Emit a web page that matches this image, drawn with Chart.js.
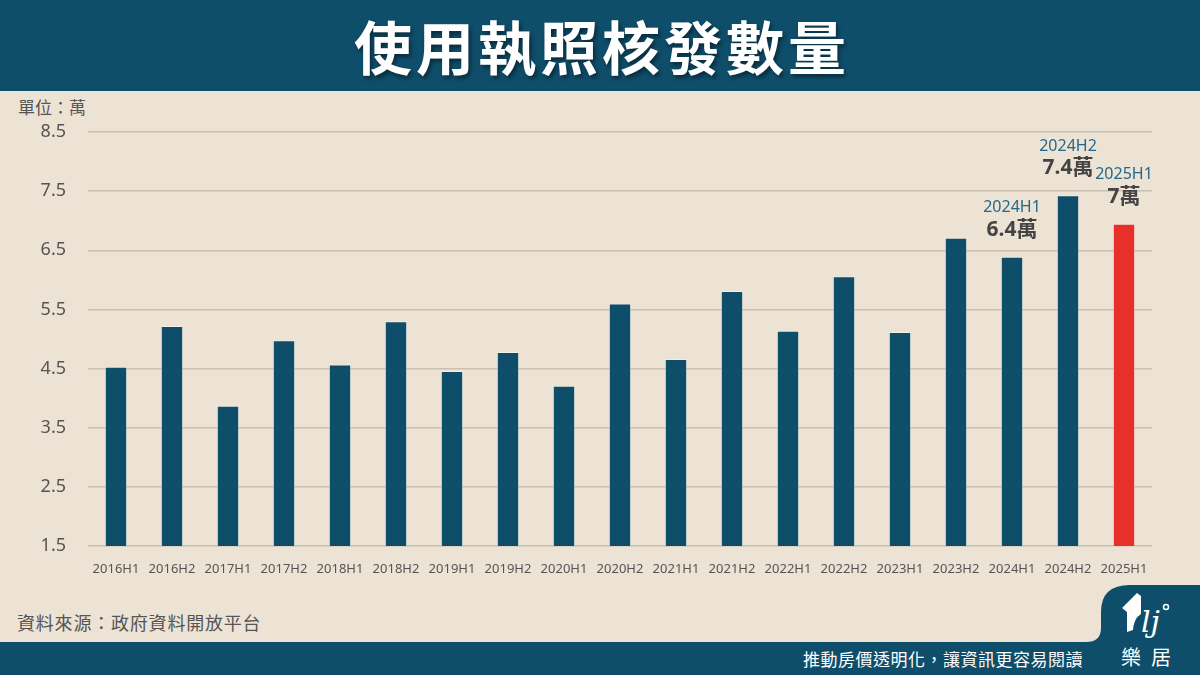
<!DOCTYPE html>
<html>
<head>
<meta charset="utf-8">
<script src="https://cdn.jsdelivr.net/npm/chart.js@4/dist/chart.umd.min.js"></script>
<style>
  html, body { margin: 0; padding: 0; }
  body { width: 1200px; height: 675px; background: #ede3d4; position: relative; overflow: hidden; font-family: 'Noto Sans', 'Noto Sans CJK TC', sans-serif; }
  #header { position: absolute; left: 0; top: 0; width: 1200px; height: 91px; background: #0f4e6b; }
  #title { position: absolute; left: 0; top: 0; width: 1200px; height: 91px; line-height: 91px; text-align: center; color: #fff; font-family: 'Noto Sans CJK TC', sans-serif; font-weight: 700; font-size: 58px; letter-spacing: 4px; text-indent: 4px; text-shadow: 2px 3px 4px rgba(0,0,0,0.45); }
  #unit { position: absolute; left: 18px; top: 94px; font-family: 'Noto Sans CJK TC', sans-serif; font-size: 17px; color: #555; }
  #source { position: absolute; left: 17px; top: 609px; font-family: 'Noto Sans CJK TC', sans-serif; font-size: 18px; letter-spacing: 0.8px; color: #555; }
  #slogan { position: absolute; right: 117px; top: 646px; font-family: 'Noto Sans CJK TC', sans-serif; font-size: 17px; color: #fff; letter-spacing: 0.5px; }
  #deco { position: absolute; left: 0; top: 0; }
  #chartbox { position: absolute; left: 0; top: 95px; width: 1200px; height: 495px; }
  #brand { position: absolute; left: 1121px; top: 642px; font-family: 'Noto Sans CJK TC', sans-serif; font-size: 20px; color: #fff; letter-spacing: 10px; }
</style>
</head>
<body>
<div id="header"></div>
<div id="title">使用執照核發數量</div>
<div id="unit">單位：萬</div>
<svg id="deco" width="1200" height="675">
  <path d="M1086,642 Q1101,642 1101,628 L1101,612 Q1101,585 1130,585 L1200,585 L1200,675 L0,675 L0,642 Z" fill="#0f4e6b"/>
  <path d="M1122,608 L1137,593 L1141,596 L1141,614 Q1134,618 1133,630 L1127,632 L1127,612 Z" fill="#fff"/>
  <text x="1141" y="632" font-family="DejaVu Serif" font-style="italic" font-size="30" fill="#fff">lj</text>
  <circle cx="1166" cy="607" r="2.5" fill="none" stroke="#fff" stroke-width="1.5"/>
</svg>
<div id="source">資料來源：政府資料開放平台</div>
<div id="slogan">推動房價透明化，讓資訊更容易閱讀</div>
<div id="brand">樂居</div>
<div id="chartbox"><canvas id="c"></canvas></div>
<script>
const categories = ['2016H1','2016H2','2017H1','2017H2','2018H1','2018H2','2019H1','2019H2','2020H1','2020H2','2021H1','2021H2','2022H1','2022H2','2023H1','2023H2','2024H1','2024H2','2025H1'];
const values = [4.53,5.22,3.87,4.98,4.57,5.30,4.46,4.78,4.21,5.60,4.66,5.81,5.14,6.06,5.12,6.71,6.39,7.43,6.95];
const yTicks = [1.5,2.5,3.5,4.5,5.5,6.5,7.5,8.5];
const calloutCategories = ['2024H1','2024H2','2025H1'];
const calloutTexts = ['6.4萬','7.4萬','7萬'];
const highlightCategory = '2025H1';

const BLUE = '#0f4e6b';
const RED = '#e8302a';

const calloutPlugin = {
  id: 'callouts',
  afterDatasetsDraw(chart) {
    const ctx = chart.ctx;
    const meta = chart.getDatasetMeta(0);
    ctx.save();
    ctx.textAlign = 'center';
    ctx.textBaseline = 'middle';
    calloutCategories.forEach((cat, k) => {
      const i = categories.indexOf(cat);
      const bar = meta.data[i];
      ctx.fillStyle = '#22698b';
      ctx.font = "16px 'Noto Sans', sans-serif";
      ctx.fillText(cat, bar.x, bar.y - 49);
      ctx.fillStyle = '#444';
      ctx.font = "bold 21px 'Noto Sans', 'Noto Sans CJK TC', sans-serif";
      ctx.fillText(calloutTexts[k], bar.x, bar.y - 27);
    });
    ctx.restore();
  }
};

new Chart(document.getElementById('c'), {
  type: 'bar',
  data: {
    labels: categories,
    datasets: [{
      data: values,
      backgroundColor: categories.map(c => c === highlightCategory ? RED : BLUE),
      borderColor: 'rgba(255,255,255,0.35)',
      borderWidth: 1,
      barPercentage: 0.4,
      categoryPercentage: 1.0
    }]
  },
  options: {
    responsive: true,
    maintainAspectRatio: false,
    animation: false,
    layout: { padding: { top: 37, right: 48, left: 0, bottom: 0 } },
    plugins: { legend: { display: false }, tooltip: { enabled: false }, title: { display: false } },
    scales: {
      x: {
        grid: { display: false },
        border: { display: false },
        ticks: { color: '#555', font: { size: 13, family: "'Noto Sans', sans-serif" }, padding: 7, maxRotation: 0, autoSkip: false },
        afterFit(s) { s.height = 44; }
      },
      y: {
        min: yTicks[0],
        max: yTicks[yTicks.length - 1],
        afterBuildTicks(s) { s.ticks = yTicks.map(v => ({ value: v })); },
        grid: { color: '#cbc1b2', lineWidth: 1.5, drawTicks: false },
        border: { display: false },
        ticks: { color: '#555', font: { size: 18, family: "'Noto Sans', sans-serif" }, padding: 22, callback: v => Number(v).toFixed(1) },
        afterFit(s) { s.width = 88; }
      }
    }
  },
  plugins: [calloutPlugin]
});
</script>
</body>
</html>
